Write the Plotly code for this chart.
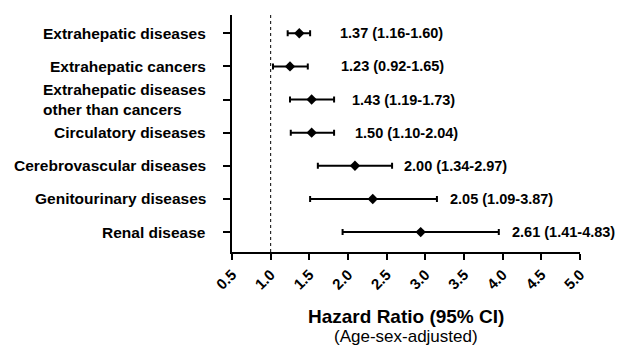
import plotly.graph_objects as go

categories = ["Extrahepatic diseases", "Extrahepatic cancers",
              "Extrahepatic diseases<br>other than cancers", "Circulatory diseases",
              "Cerebrovascular diseases", "Genitourinary diseases", "Renal disease"]
# plotted positions as drawn in the figure
hr_point = [1.37, 1.25, 1.53, 1.53, 2.09, 2.32, 2.94]
ci_low = [1.22, 1.03, 1.25, 1.26, 1.61, 1.51, 1.93]
ci_high = [1.51, 1.48, 1.82, 1.82, 2.57, 3.15, 3.95]
value_labels = ["1.37 (1.16-1.60)", "1.23 (0.92-1.65)", "1.43 (1.19-1.73)",
                "1.50 (1.10-2.04)", "2.00 (1.34-2.97)", "2.05 (1.09-3.87)",
                "2.61 (1.41-4.83)"]
label_x = [1.87, 1.88, 2.02, 2.06, 2.70, 3.29, 4.09]
x_ticks = [0.5, 1.0, 1.5, 2.0, 2.5, 3.0, 3.5, 4.0, 4.5, 5.0]

rows = list(range(len(categories)))
FONT = "Liberation Sans, Arial, sans-serif"

fig = go.Figure()
fig.add_trace(go.Scatter(
    x=hr_point, y=rows, mode="markers",
    marker=dict(symbol="diamond", size=8, color="black"),
    error_x=dict(type="data", symmetric=False,
                 array=[h - p for h, p in zip(ci_high, hr_point)],
                 arrayminus=[p - l for p, l in zip(hr_point, ci_low)],
                 color="black", thickness=2, width=3),
    showlegend=False, hoverinfo="skip"))

fig.add_shape(type="line", x0=1.0, x1=1.0, y0=0, y1=1, yref="paper",
              line=dict(color="black", width=1, dash="dot"))

for r, lab, lx in zip(rows, value_labels, label_x):
    fig.add_annotation(x=lx, y=r, text="<b>%s</b>" % lab, showarrow=False,
                       xanchor="left", yanchor="middle",
                       font=dict(family=FONT, size=14.5, color="black"))

for r, cat in zip(rows, categories):
    fig.add_annotation(x=0, xref="paper", y=r, text="<b>%s</b>" % cat,
                       showarrow=False, xanchor="right", yanchor="middle",
                       align="left", xshift=-24,
                       font=dict(family=FONT, size=15.5, color="black"))

fig.add_annotation(x=0.5, xref="paper", y=0, yref="paper", yanchor="top",
                   yshift=-52, text="<b>Hazard Ratio (95% CI)</b>", showarrow=False,
                   font=dict(family=FONT, size=19, color="black"))
fig.add_annotation(x=0.5, xref="paper", y=0, yref="paper", yanchor="top",
                   yshift=-73, text="(Age-sex-adjusted)", showarrow=False,
                   font=dict(family=FONT, size=17, color="black"))

fig.update_layout(
    width=621, height=346,
    margin=dict(l=232, r=41, t=15, b=94),
    paper_bgcolor="white", plot_bgcolor="white",
    font=dict(family=FONT, color="black"),
    xaxis=dict(range=[0.5, 5.0], tickvals=x_ticks,
               ticktext=["<b>%.1f</b>" % v for v in x_ticks],
               tickangle=-45, ticks="outside", ticklen=6, tickwidth=2,
               tickcolor="black", showline=True, linewidth=2, linecolor="black",
               showgrid=False, zeroline=False,
               tickfont=dict(family=FONT, size=15, color="black")),
    yaxis=dict(range=[6.6, -0.55], tickvals=rows, ticktext=[""] * len(rows),
               ticks="outside", ticklen=7, tickwidth=2, tickcolor="black",
               showline=True, linewidth=2, linecolor="black",
               showgrid=False, zeroline=False),
)

fig.write_html("out.html", config={"displayModeBar": False},
               post_script="document.body.style.margin='0';")
